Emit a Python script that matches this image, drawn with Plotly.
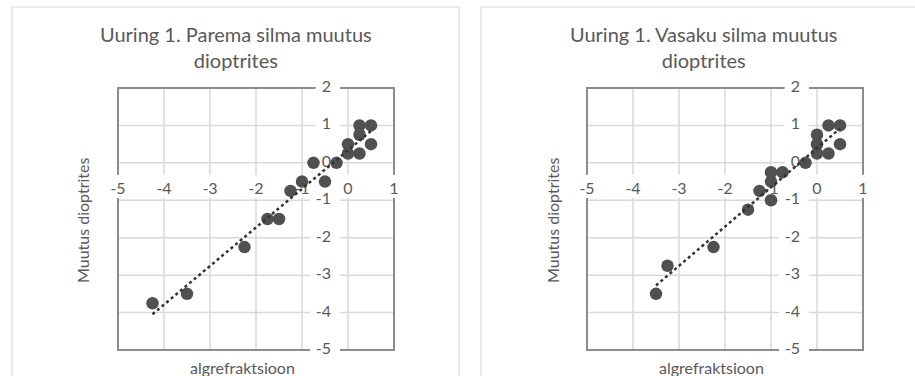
import numpy as np
import plotly.graph_objects as go

# --- data -------------------------------------------------------------
right_x = [-4.25, -3.5, -2.25, -1.75, -1.5, -1.25, -1.0, -0.75, -0.5, -0.25,
           0.0, 0.0, 0.25, 0.25, 0.25, 0.5, 0.5]
right_y = [-3.75, -3.5, -2.25, -1.5, -1.5, -0.75, -0.5, 0.0, -0.5, 0.0,
           0.5, 0.25, 1.0, 0.75, 0.25, 1.0, 0.5]

left_x = [-3.5, -3.25, -2.25, -1.5, -1.25, -1.0, -1.0, -1.0, -0.75, -0.25,
          0.0, 0.0, 0.0, 0.25, 0.25, 0.5, 0.5]
left_y = [-3.5, -2.75, -2.25, -1.25, -0.75, -0.25, -0.5, -1.0, -0.25, 0.0,
          0.75, 0.5, 0.25, 1.0, 0.25, 1.0, 0.5]

titles = ["Uuring 1. Parema silma muutus<br>dioptrites",
          "Uuring 1. Vasaku silma muutus<br>dioptrites"]
x_title = "algrefraktsioon"
y_title = "Muutus dioptrites"

x_ticks = [-5, -4, -3, -2, -1, 0, 1]
y_ticks = [2, 1, 0, -1, -2, -3, -4, -5]
X_RANGE = [-5, 1]
Y_RANGE = [-5, 2]

# --- geometry (pixels) -----------------------------------------------
W, H = 915, 376
PLOT_TOP, PLOT_BOTTOM = 88, 350
PLOTS_X = [(118, 394), (587, 863)]
CARDS_X = [(12, 459), (481, 940)]
CARD_TOP = 7
TITLE_CX = [236, 704]
XT_CX = [243, 711]
YT_CX = [82, 552]

FONT = "Lato"
TEXT_GREY = "#595959"
GRID = "#d9d9d9"
BORDER = "#8c8c8c"
MARK = "#505050"

px_x = (PLOTS_X[0][1] - PLOTS_X[0][0]) / (X_RANGE[1] - X_RANGE[0])
px_y = (PLOT_BOTTOM - PLOT_TOP) / (Y_RANGE[1] - Y_RANGE[0])
XLAB_Y = -27 / px_y      # x tick labels hang below the y = 0 axis
YLAB_X = -17 / px_x      # y tick labels sit left of the x = 0 axis


def to_paper(i, xv, yv):
    """Data value -> paper fraction for subplot i."""
    px = PLOTS_X[i][0] + (xv - X_RANGE[0]) * px_x
    py = PLOT_TOP + (Y_RANGE[1] - yv) * px_y
    return px / W, 1 - py / H


def label_width(s):
    """Rough pixel width of a 16px tick label."""
    return sum(5.5 if c == "-" else 9.3 for c in s)


fig = go.Figure()
shapes = []
annotations = []

series = [(right_x, right_y), (left_x, left_y)]
for i, (xs, ys) in enumerate(series):
    n = "" if i == 0 else str(i + 1)
    xa, ya = "x" + n, "y" + n
    x0p, x1p = PLOTS_X[i]

    fig.update_layout(**{
        "xaxis" + n: dict(domain=[x0p / W, x1p / W], range=X_RANGE,
                          showticklabels=False, showgrid=False,
                          zeroline=False, showline=False, fixedrange=True,
                          anchor=ya),
        "yaxis" + n: dict(domain=[1 - PLOT_BOTTOM / H, 1 - PLOT_TOP / H],
                          range=Y_RANGE, showticklabels=False,
                          showgrid=False, zeroline=False, showline=False,
                          fixedrange=True, anchor=xa),
    })

    # interior gridlines (the outer ones are covered by the frame)
    for v in x_ticks:
        if X_RANGE[0] < v < X_RANGE[1]:
            shapes.append(dict(type="line", xref=xa, yref=ya + " domain",
                               x0=v, x1=v, y0=0, y1=1, layer="below",
                               line=dict(color=GRID, width=1.5)))
    for v in y_ticks:
        if Y_RANGE[0] < v < Y_RANGE[1]:
            shapes.append(dict(type="line", xref=xa + " domain", yref=ya,
                               x0=0, x1=1, y0=v, y1=v, layer="below",
                               line=dict(color=GRID, width=1.5)))

    # plot frame
    shapes.append(dict(type="rect", xref="paper", yref="paper",
                       x0=x0p / W, x1=x1p / W,
                       y0=1 - PLOT_BOTTOM / H, y1=1 - PLOT_TOP / H,
                       layer="below", line=dict(color=BORDER, width=2)))

    # white backing behind tick labels: paper-level ones break the frame,
    # subplot-level ones break the gridlines
    boxes = []
    for v in x_ticks:
        w = label_width(str(v)) + 10
        boxes.append((v, XLAB_Y, -w / 2, w / 2, -8, 15))
    for v in y_ticks:
        w = label_width(str(v))
        boxes.append((YLAB_X, v, -w - 6, 9, -10, 10))
    for bx, by, l, r, b_, t_ in boxes:
        shapes.append(dict(type="rect", xref=xa, yref=ya, layer="below",
                           xsizemode="pixel", ysizemode="pixel",
                           xanchor=bx, yanchor=by,
                           x0=l, x1=r, y0=b_, y1=t_,
                           fillcolor="white", line=dict(width=0)))
        pxa, pya = to_paper(i, bx, by)
        shapes.append(dict(type="rect", xref="paper", yref="paper",
                           layer="below",
                           xsizemode="pixel", ysizemode="pixel",
                           xanchor=pxa, yanchor=pya,
                           x0=l, x1=r, y0=b_, y1=t_,
                           fillcolor="white", line=dict(width=0)))

    fig.add_trace(go.Scatter(
        x=x_ticks, y=[XLAB_Y] * len(x_ticks), text=[str(v) for v in x_ticks],
        mode="text", textposition="middle center", cliponaxis=False,
        textfont=dict(family=FONT, size=16, color=TEXT_GREY),
        xaxis=xa, yaxis=ya, hoverinfo="skip", showlegend=False))
    fig.add_trace(go.Scatter(
        x=[YLAB_X] * len(y_ticks), y=y_ticks, text=[str(v) for v in y_ticks],
        mode="text", textposition="middle left", cliponaxis=False,
        textfont=dict(family=FONT, size=16, color=TEXT_GREY),
        xaxis=xa, yaxis=ya, hoverinfo="skip", showlegend=False))

    # observations
    fig.add_trace(go.Scatter(
        x=xs, y=ys, mode="markers",
        marker=dict(size=12.5, color=MARK),
        xaxis=xa, yaxis=ya, showlegend=False))

    # linear trend line over the observed span
    k, b = np.polyfit(xs, ys, 1)
    tx = np.array([min(xs), max(xs)])
    fig.add_trace(go.Scatter(
        x=tx, y=k * tx + b, mode="lines",
        line=dict(color="#333333", width=2.5, dash="dot"),
        xaxis=xa, yaxis=ya, hoverinfo="skip", showlegend=False))

    # chart card outline
    c0, c1 = CARDS_X[i]
    shapes.append(dict(type="rect", xref="paper", yref="paper", layer="below",
                       x0=c0 / W, x1=c1 / W, y0=-0.1, y1=1 - CARD_TOP / H,
                       line=dict(color=GRID, width=1.2)))

    annotations.append(dict(text=titles[i], xref="paper", yref="paper",
                            x=TITLE_CX[i] / W, y=1 - 47 / H,
                            xanchor="center", yanchor="middle",
                            showarrow=False,
                            font=dict(family=FONT, size=20, color=TEXT_GREY)))
    annotations.append(dict(text=x_title, xref="paper", yref="paper",
                            x=XT_CX[i] / W, y=1 - 367 / H,
                            xanchor="center", yanchor="middle",
                            showarrow=False,
                            font=dict(family=FONT, size=16, color=TEXT_GREY)))
    annotations.append(dict(text=y_title, xref="paper", yref="paper",
                            x=YT_CX[i] / W, y=1 - 220 / H, textangle=-90,
                            xanchor="center", yanchor="middle",
                            showarrow=False,
                            font=dict(family=FONT, size=16, color=TEXT_GREY)))

fig.update_layout(width=W, height=H, margin=dict(l=0, r=0, t=0, b=0),
                  paper_bgcolor="white", plot_bgcolor="rgba(0,0,0,0)",
                  shapes=shapes, annotations=annotations, showlegend=False)

fig.write_html("out.html")
